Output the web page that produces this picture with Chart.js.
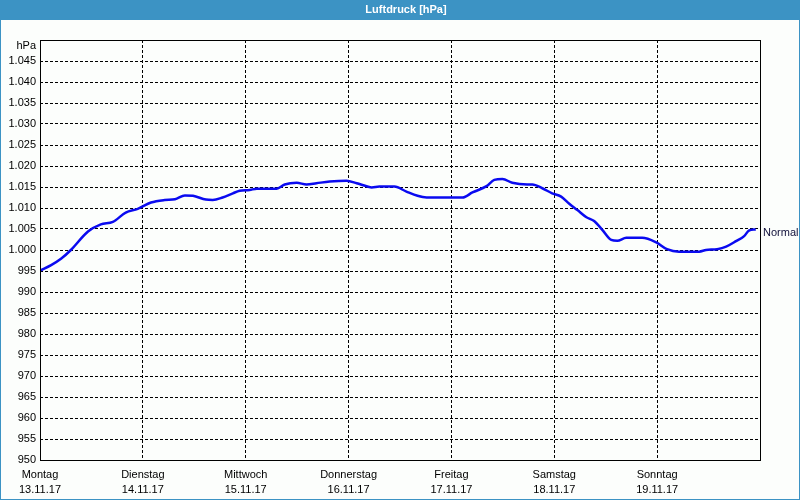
<!DOCTYPE html>
<html>
<head>
<meta charset="utf-8">
<script src="https://cdn.jsdelivr.net/npm/chart.js@4.4.0/dist/chart.umd.min.js"></script>
<style>
  html, body { margin: 0; padding: 0; background: #fcfefc; }
</style>
</head>
<body>
<canvas id="myChart" width="800" height="500"></canvas>
<script>
"use strict";
// data (hours since Monday 00:00)
const hours = [0, 2.6, 4.9, 7.2, 11.2, 14.2, 17.0, 20.0, 22.8, 25.9, 29.1, 31.5, 33.8, 35.7, 38.7,
  40.3, 42.6, 45.0, 46.6, 48.9, 50.6, 55.2, 57.1, 59.9, 62.2, 64.5, 67.6, 71.5, 73.9, 76.4,
  77.4, 79.2, 82.7, 85.5, 88.1, 90.2, 98.6, 100.9, 104.2, 106.0, 107.9, 110.2, 113.7, 114.9,
  117.2, 119.5, 121.6, 123.5, 125.4, 127.5, 129.3, 131.2, 133.3, 134.7, 136.8, 140.5, 143.8,
  146.3, 149.1, 153.8, 155.4, 158.0, 160.1, 162.4, 164.3, 165.4, 167.0];
const pressure = [995.1, 996.4, 997.9, 1000.0, 1004.4, 1006.1, 1006.7, 1008.9, 1009.8, 1011.3, 1011.9, 1012.1, 1013.0, 1012.9, 1012.0,
  1011.9, 1012.5, 1013.5, 1014.1, 1014.3, 1014.6, 1014.6, 1015.6, 1016.0, 1015.6, 1015.9, 1016.3, 1016.5, 1015.9, 1015.1,
  1014.9, 1015.1, 1015.1, 1013.9, 1012.9, 1012.5, 1012.5, 1013.7, 1015.2, 1016.7, 1016.9, 1016.0, 1015.6, 1015.6,
  1014.7, 1013.5, 1012.7, 1011.0, 1009.5, 1007.8, 1006.9, 1004.8, 1002.4, 1002.2, 1002.9, 1002.9, 1001.8,
  1000.2, 999.6, 999.6, 1000.0, 1000.2, 1000.8, 1002.1, 1003.3, 1004.6, 1004.9];
const dayNames = ["Montag", "Dienstag", "Mittwoch", "Donnerstag", "Freitag", "Samstag", "Sonntag"];
const dayDates = ["13.11.17", "14.11.17", "15.11.17", "16.11.17", "17.11.17", "18.11.17", "19.11.17"];
const title = "Luftdruck [hPa]";
const unit = "hPa";
const seriesName = "Normal";

const blue = "#3c93c4";
const font = "'Liberation Sans', Arial, sans-serif";

// window frame, title bar and plot border
const framePlugin = {
  id: "framePlugin",
  beforeDraw(chart) {
    const ctx = chart.ctx;
    ctx.save();
    ctx.fillStyle = "#fcfefc";
    ctx.fillRect(0, 0, 800, 500);
    ctx.fillStyle = blue;
    ctx.fillRect(0, 0, 800, 20);
    ctx.strokeStyle = blue;
    ctx.lineWidth = 1;
    ctx.strokeRect(0.5, 0.5, 799, 499);
    ctx.fillStyle = "#ffffff";
    ctx.font = "bold 11px " + font;
    ctx.textAlign = "center";
    ctx.textBaseline = "middle";
    ctx.fillText(title, 406, 10);
    ctx.restore();
  },
  afterDraw(chart) {
    const ctx = chart.ctx;
    const a = chart.chartArea;
    ctx.save();
    ctx.strokeStyle = "#000";
    ctx.lineWidth = 1;
    ctx.strokeRect(Math.round(a.left) + 0.5, Math.round(a.top) + 0.5,
      Math.round(a.right - a.left), Math.round(a.bottom - a.top));
    // unit label above the axis
    ctx.fillStyle = "#000";
    ctx.font = "11px " + font;
    ctx.textAlign = "right";
    ctx.textBaseline = "middle";
    ctx.fillText(unit, a.left - 4, a.top + 6);
    // series label next to the last point
    const y = chart.scales.y.getPixelForValue(pressure[pressure.length - 1]);
    ctx.fillStyle = "#10103a";
    ctx.textAlign = "left";
    ctx.fillText(seriesName, a.right + 3, y + 4);
    ctx.restore();
  },
};

const ctxEl = document.getElementById("myChart");
const myChart = new Chart(ctxEl, {
  type: "line",
  data: {
    datasets: [
      {
        label: seriesName,
        data: hours.map((h, i) => ({ x: h, y: pressure[i] })),
        borderColor: "#0a0af0",
        borderWidth: 2.5,
        pointRadius: 0,
        fill: false,
        tension: 0.4,
        cubicInterpolationMode: "monotone",
      },
    ],
  },
  options: {
    responsive: false,
    animation: false,
    devicePixelRatio: 1,
    layout: { padding: { top: 40, right: 40, left: 0, bottom: 0 } },
    plugins: {
      legend: { display: false },
      tooltip: { enabled: false },
    },
    scales: {
      x: {
        type: "linear",
        min: 0,
        max: 168,
        afterFit(scale) { scale.height = 40; },
        grid: { color: "#000", lineWidth: 1, drawTicks: false },
        border: { display: false, dash: [3, 2] },
        ticks: {
          stepSize: 24,
          autoSkip: false,
          maxRotation: 0,
          padding: 7,
          color: "#000",
          font: { family: font, size: 11, lineHeight: 1.4 },
          callback: (v) => {
            const i = Math.round(v / 24);
            return i < 7 ? [dayNames[i], dayDates[i]] : "";
          },
        },
      },
      y: {
        min: 950,
        max: 1050,
        afterFit(scale) { scale.width = 40; },
        grid: { color: "#000", lineWidth: 1, drawTicks: false },
        border: { display: false, dash: [3, 2] },
        ticks: {
          stepSize: 5,
          padding: 4,
          color: "#000",
          font: { family: font, size: 11 },
          callback: (v) => {
            if (v >= 1050) return "";
            if (v >= 1000) return "1." + String(v - 1000).padStart(3, "0");
            return String(v);
          },
        },
      },
    },
  },
  plugins: [framePlugin],
});
</script>
</body>
</html>
